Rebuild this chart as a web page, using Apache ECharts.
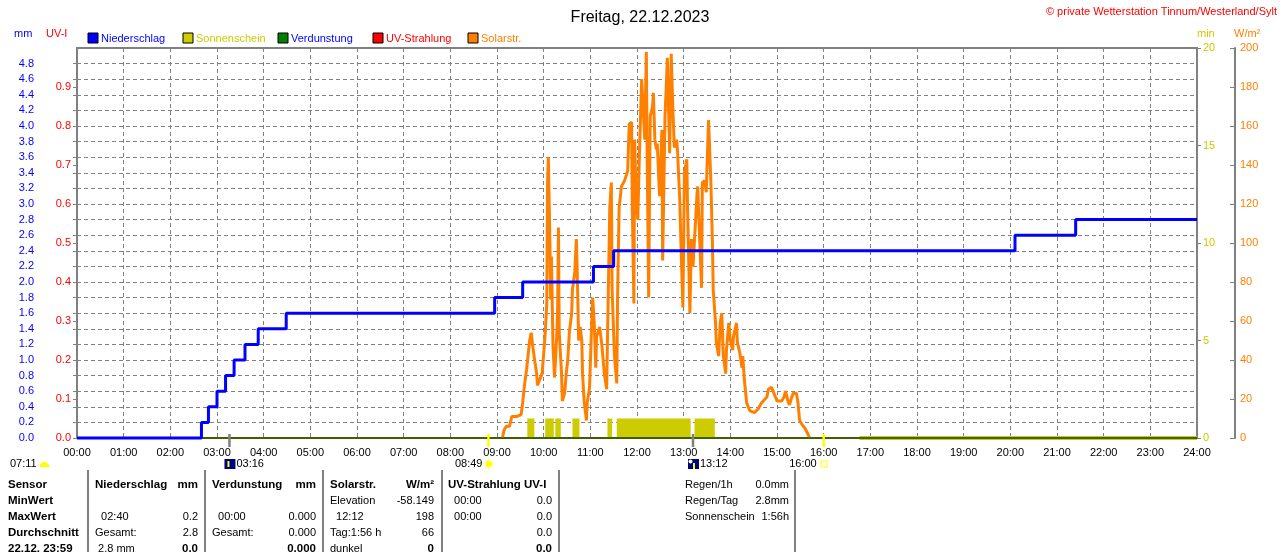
<!DOCTYPE html>
<html lang="de">
<head>
<meta charset="UTF-8">
<title>Wetterstation Tinnum - 22.12.2023</title>
<script src="https://cdn.jsdelivr.net/npm/echarts@6/dist/echarts.min.js"></script>
<style>
  body { margin: 0; background: #ffffff; }
  #main { width: 1280px; height: 552px; }
</style>
</head>
<body>
<div id="main"></div>
<script>
// ---- data (times in minutes since midnight) ----
const rainTimes = ['00:00','02:40','02:49','03:00','03:11','03:22','03:36','03:53','04:29','08:57','09:33','11:04','11:30','20:06','21:24','24:00'];
const rainValues = [0, 0.2, 0.4, 0.6, 0.8, 1.0, 1.2, 1.4, 1.6, 1.8, 2.0, 2.2, 2.4, 2.6, 2.8, 2.8];

const solarMinutes = [547,549,552,556,559,565,571,573,575,578,582,584,586,588,591,592,595,598,600,602,604,605,606,608,609,610,612,614,617,618,619,620,623,624,627,629,631,633,636,637,640,642,643,645,647,649,650,652,655,656,659,661,663,665,667,668,672,675,678,681,682,685,687,688,691,694,695,697,700,704,708,710,713,714,716,717,719,721,723,726,727,730,732,733,735,737,740,741,743,745,746,749,752,753,756,758,759,762,764,766,768,771,772,775,777,779,781,784,785,788,790,792,794,797,798,800,803,804,807,809,812,815,817,818,821,822,825,827,829,831,834,835,838,840,843,844,848,849,852,855,856,858,861,865,871,876,880,887,889,893,896,900,906,909,911,914,916,919,921,925,927,929,932,936,938,941,942];
const solarValues  = [0,4,6,6,11,11,12,18,26,35,50,54,47,41,33,27,30,33,43,54,69,131,144,101,71,93,47,31,54,67,108,54,33,19,23,33,40,54,64,76,85,102,88,50,57,50,33,19,9,18,26,50,72,59,36,52,57,47,33,25,50,118,131,76,42,28,71,118,129,132,137,161,162,118,69,153,122,112,144,184,185,153,198,148,72,165,170,177,153,148,151,124,158,91,165,184,195,146,197,170,149,153,148,122,93,67,136,143,118,64,102,88,102,124,129,108,77,131,132,126,163,131,100,76,59,49,42,59,64,42,33,45,59,50,45,52,59,49,44,36,42,30,18,14,13,15,18,21,25,26,23,19,19,21,24,19,17,21,23,23,18,9,7,5,4,1,0];

const sunStart = ['09:39','10:02','10:15','10:37','11:22','11:34','13:14'];
const sunEnd   = ['09:48','10:13','10:22','10:46','11:28','13:09','13:40'];
const sunZeroFrom = '16:46';

const xTickLabels = ['00:00','01:00','02:00','03:00','04:00','05:00','06:00','07:00','08:00','09:00','10:00','11:00','12:00','13:00','14:00','15:00','16:00','17:00','18:00','19:00','20:00','21:00','22:00','23:00','24:00'];

const dayLength = '07:11';
const sunrise = '08:49';
const sunset = '16:00';
const moonrise = '03:16';
const moonset = '13:12';

const legendNames = ['Niederschlag','Sonnenschein','Verdunstung','UV-Strahlung','Solarstr.'];

// table below the chart
const colSensor = ['Sensor','MinWert','MaxWert','Durchschnitt','22.12. 23:59'];
const colRain  = [['Niederschlag','mm'], ['',''], ['  02:40','0.2'], ['Gesamt:','2.8'], [' 2.8 mm','0.0']];
const colEvap  = [['Verdunstung','mm'], ['',''], ['  00:00','0.000'], ['Gesamt:','0.000'], ['','0.000']];
const colSolar = [['Solarstr.','W/m²'], ['Elevation','-58.149'], ['  12:12','198'], ['Tag:1:56 h','66'], ['dunkel','0']];
const colUv    = [['UV-Strahlung UV-I',''], ['  00:00','0.0'], ['  00:00','0.0'], ['','0.0'], ['','0.0']];
const colInfo  = [['Regen/1h','0.0mm'], ['Regen/Tag','2.8mm'], ['Sonnenschein','1:56h']];

// ---- helpers ----
const toMin = s => { const p = s.split(':').map(Number); return p[0] * 60 + p[1]; };
const FONT = '"Liberation Sans", Arial, sans-serif';
const GRAY = '#808080';

const BLUE = '#0000FF', SUN = '#CCCC00', GREEN = '#008000', RED = '#FF0000', ORANGE = '#FF8000';
const legendColors = [BLUE, SUN, GREEN, RED, ORANGE];
const legendTextColors = [BLUE, SUN, BLUE, RED, ORANGE];

function txt(x, y, s, color, size, bold, align) {
  return {
    type: 'text', silent: true, z: 100,
    style: {
      x: x, y: y, text: s, fill: color,
      font: (bold ? 'bold ' : '') + size + 'px ' + FONT,
      textAlign: align || 'left', textVerticalAlign: 'middle',
      align: align || 'left', verticalAlign: 'middle'
    }
  };
}
function ln(x1, y1, x2, y2, color, w) {
  return { type: 'line', silent: true, z: 100, shape: { x1: x1, y1: y1, x2: x2, y2: y2 }, style: { stroke: color, lineWidth: w } };
}

const rainData = rainTimes.map((t, i) => [toMin(t), rainValues[i]]);
const solarData = solarMinutes.map((m, i) => [m, solarValues[i]]);
const sunData = sunStart.map((s, i) => [toMin(s), toMin(sunEnd[i])]);

const chart = echarts.init(document.getElementById('main'));

const dash = { color: GRAY, type: [4, 3], width: 1 };

const option = {
  animation: false,
  backgroundColor: '#ffffff',
  title: {
    text: 'Freitag, 22.12.2023', left: 'center', top: 5,
    textStyle: { fontSize: 16, fontWeight: 'normal', color: '#000000', fontFamily: FONT }
  },
  grid: { left: 77, right: 83, top: 48, bottom: 114, show: true, borderColor: GRAY, borderWidth: 2 },
  xAxis: {
    type: 'value', min: 0, max: 1440, interval: 60,
    axisLine: { show: true, lineStyle: { color: GRAY } },
    axisTick: { show: false },
    axisLabel: { color: '#000000', fontSize: 11, fontFamily: FONT, margin: 9, formatter: v => xTickLabels[v / 60] },
    splitLine: { show: true, lineStyle: dash }
  },
  yAxis: [
    {
      type: 'value', position: 'left', offset: 37, min: 0, max: 5, interval: 0.2,
      axisLine: { show: true, lineStyle: { color: GRAY, width: 2 } },
      axisTick: { show: true, length: 4, lineStyle: { color: GRAY } },
      axisLabel: { color: BLUE, fontSize: 11, fontFamily: FONT, margin: 6, showMaxLabel: false, formatter: v => v.toFixed(1) },
      splitLine: { show: true, lineStyle: dash }
    },
    {
      type: 'value', position: 'left', offset: 0, min: 0, max: 1, interval: 0.1,
      axisLine: { show: false },
      axisTick: { show: true, length: 4, lineStyle: { color: GRAY } },
      axisLabel: { color: RED, fontSize: 11, fontFamily: FONT, margin: 6, showMaxLabel: false, formatter: v => v.toFixed(1) },
      splitLine: { show: false }
    },
    {
      type: 'value', position: 'right', offset: 0, min: 0, max: 20, interval: 5,
      axisLine: { show: false },
      axisTick: { show: true, length: 4, lineStyle: { color: GRAY } },
      axisLabel: { color: SUN, fontSize: 11, fontFamily: FONT, margin: 6 },
      splitLine: { show: false }
    },
    {
      type: 'value', position: 'right', offset: 38, min: 0, max: 200, interval: 20,
      axisLine: { show: true, lineStyle: { color: GRAY, width: 2 } },
      axisTick: { show: true, inside: true, length: 5, lineStyle: { color: GRAY } },
      axisLabel: { color: ORANGE, fontSize: 11, fontFamily: FONT, margin: 5 },
      splitLine: { show: false }
    }
  ],
  series: [
    {
      name: 'Sonnenschein', type: 'custom', yAxisIndex: 2, data: sunData, silent: true,
      encode: { x: [0, 1] },
      renderItem: (params, api) => {
        const p0 = api.coord([api.value(0), 1]);
        const p1 = api.coord([api.value(1), 0]);
        return { type: 'rect', shape: { x: p0[0], y: p0[1], width: p1[0] - p0[0], height: p1[1] - p0[1] }, style: { fill: SUN } };
      }
    },
    {
      name: 'Sonnenschein 0', type: 'line', yAxisIndex: 2, silent: true, clip: false, showSymbol: false,
      data: [[toMin(sunZeroFrom), 0], [1440, 0]], lineStyle: { color: SUN, width: 4 }
    },
    {
      name: 'UV-Strahlung', type: 'line', yAxisIndex: 1, silent: true, clip: false, showSymbol: false,
      data: [[0, 0], [1440, 0]], lineStyle: { color: RED, width: 2 }
    },
    {
      name: 'Solarstr.', type: 'line', yAxisIndex: 3, silent: true, clip: false, showSymbol: false,
      data: solarData, lineStyle: { color: ORANGE, width: 3 }
    },
    {
      name: 'Verdunstung', type: 'line', yAxisIndex: 0, silent: true, clip: false, showSymbol: false,
      data: [[0, 0], [1440, 0]], lineStyle: { color: GREEN, width: 1.5 }
    },
    {
      name: 'Niederschlag', type: 'line', yAxisIndex: 0, silent: true, clip: false, showSymbol: false, step: 'end',
      data: rainData, lineStyle: { color: BLUE, width: 3 }
    }
  ]
};

chart.setOption(option);

// ---- texts and markers ----
const g = [];
const xp = t => chart.convertToPixel({ xAxisIndex: 0 }, toMin(t));
const yBase = chart.convertToPixel({ yAxisIndex: 0 }, 0);

g.push(txt(1277, 12, '© private Wetterstation Tinnum/Westerland/Sylt', RED, 11, false, 'right'));

// legend
legendNames.forEach((n, i) => {
  const x = 88 + i * 95;
  g.push({ type: 'rect', silent: true, z: 100, shape: { x: x, y: 33, width: 10, height: 10 }, style: { fill: legendColors[i], stroke: '#000000', lineWidth: 1 } });
  g.push(txt(x + 13, 38.5, n, legendTextColors[i], 11, false, 'left'));
});

// axis names
g.push(txt(14, 34, 'mm', BLUE, 11, false, 'left'));
g.push(txt(46, 34, 'UV-I', RED, 11, false, 'left'));
g.push(txt(1197, 34, 'min', SUN, 11, false, 'left'));
g.push(txt(1234, 34, 'W/m²', ORANGE, 11, false, 'left'));

// sun / moon markers on the time axis
[sunrise, sunset].forEach(t => g.push(ln(xp(t), yBase - 4, xp(t), yBase + 9, '#FFFF00', 2.5)));
[moonrise, moonset].forEach(t => g.push(ln(xp(t), yBase - 4, xp(t), yBase + 9, GRAY, 2.5)));

const yIcon = 464;
// day length with rising sun symbol
g.push(txt(10, yIcon, dayLength, '#000000', 11, false, 'left'));
g.push({ type: 'sector', silent: true, z: 100, shape: { cx: 44.5, cy: yIcon + 3, r: 5, r0: 0, startAngle: Math.PI, endAngle: Math.PI * 2 }, style: { fill: '#FFFF00' } });

// moonrise
let mx = xp(moonrise);
g.push({ type: 'rect', silent: true, z: 100, shape: { x: mx - 5, y: yIcon - 5, width: 11, height: 10 }, style: { fill: '#000080' } });
g.push(ln(mx - 1, yIcon - 3, mx - 1, yIcon + 3, '#FFFF00', 2));
g.push(txt(mx + 7, yIcon, moonrise, '#000000', 11, false, 'left'));

// sunrise
let sx = xp(sunrise);
g.push(txt(sx - 6, yIcon, sunrise, '#000000', 11, false, 'right'));
g.push({ type: 'circle', silent: true, z: 100, shape: { cx: sx + 0.5, cy: yIcon, r: 3.2 }, style: { fill: '#FFFF00' } });
for (let k = 0; k < 8; k++) {
  const a = k * Math.PI / 4;
  g.push(ln(sx + 0.5 + Math.cos(a) * 4, yIcon + Math.sin(a) * 4, sx + 0.5 + Math.cos(a) * 5.5, yIcon + Math.sin(a) * 5.5, '#FFFF00', 1));
}

// moonset
mx = xp(moonset);
g.push({ type: 'rect', silent: true, z: 100, shape: { x: mx - 5, y: yIcon - 5, width: 11, height: 10 }, style: { fill: '#000080' } });
g.push({ type: 'circle', silent: true, z: 100, shape: { cx: mx - 2.5, cy: yIcon - 2.5, r: 2 }, style: { fill: '#ffffff' } });
g.push(ln(mx + 1, yIcon - 1, mx + 1, yIcon + 5, '#FFFF00', 2));
g.push(txt(mx + 7, yIcon, moonset, '#000000', 11, false, 'left'));

// sunset
sx = xp(sunset);
g.push(txt(sx - 7, yIcon, sunset, '#000000', 11, false, 'right'));
g.push({ type: 'rect', silent: true, z: 100, shape: { x: sx - 2.5, y: yIcon - 3, width: 6, height: 6 }, style: { fill: 'none', stroke: '#FFFF00', lineWidth: 1 } });

// table
const rowY = [485, 501, 517, 533, 549];
const BOLD = 11.5;
[88, 205, 323, 442, 559, 795].forEach(x => g.push(ln(x, 470, x, 552, GRAY, 2)));

colSensor.forEach((s, r) => g.push(txt(8, rowY[r], s, '#000000', BOLD, true, 'left')));

const cols = [
  { data: colRain, left: 95, right: 198 },
  { data: colEvap, left: 212, right: 316 },
  { data: colSolar, left: 330, right: 434 },
  { data: colUv, left: 448, right: 552 }
];
cols.forEach(c => {
  c.data.forEach((cell, r) => {
    const head = r === 0;
    const last = r === c.data.length - 1;
    if (cell[0]) g.push(txt(c.left, rowY[r], cell[0], '#000000', head ? BOLD : 11, head, 'left'));
    if (cell[1]) g.push(txt(c.right, rowY[r], cell[1], '#000000', head || last ? BOLD : 11, head || last, 'right'));
  });
});
colInfo.forEach((cell, r) => {
  g.push(txt(685, rowY[r], cell[0], '#000000', 11, false, 'left'));
  g.push(txt(789, rowY[r], cell[1], '#000000', 11, false, 'right'));
});

chart.setOption({ graphic: { elements: g } });
</script>
</body>
</html>
